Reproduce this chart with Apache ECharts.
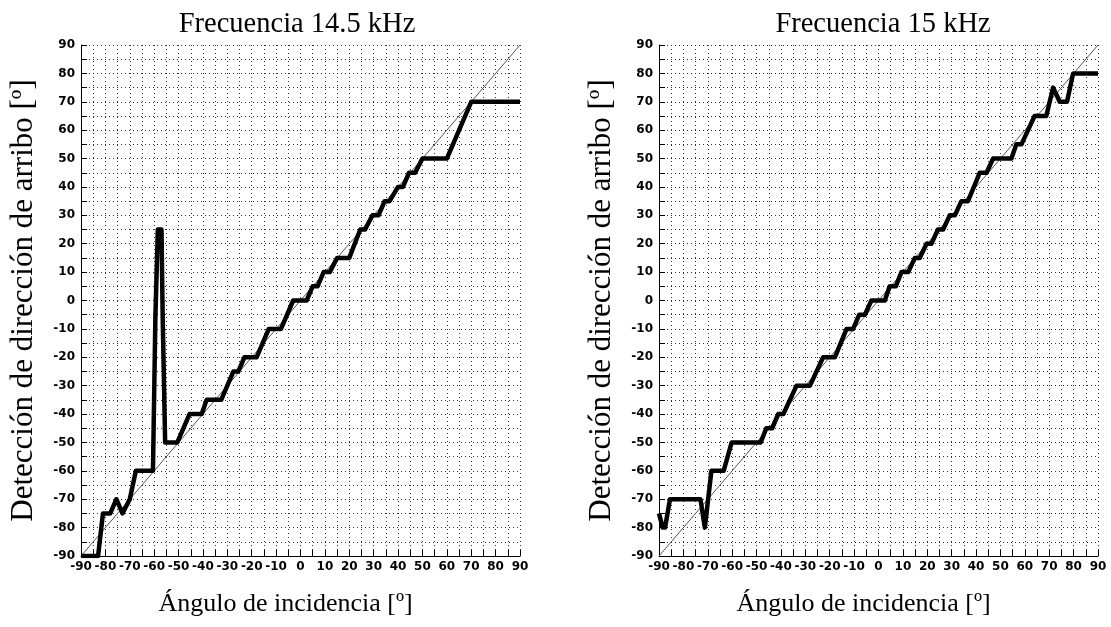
<!DOCTYPE html>
<html>
<head>
<meta charset="utf-8">
<script src="https://cdn.jsdelivr.net/npm/echarts@6/dist/echarts.min.js"></script>
<style>
html,body{margin:0;padding:0;background:#fff;}
#c{width:1111px;height:627px;}
</style>
</head>
<body>
<div id="c"></div>
<script>
// Titles and axis names
var titles = ['Frecuencia 14.5 kHz', 'Frecuencia 15 kHz'];
var xName = 'Ángulo de incidencia [º]';
var yName = 'Detección de dirección de arribo [º]';

// Axis range / ticks
var axisMin = -90, axisMax = 90, tickStep = 5, labelStep = 10;

// Reference diagonal (ideal detection y = x)
var diagX = [-90, 90];
var diagY = [-90, 90];

// 14.5 kHz: detected angle vs incidence angle (breakpoints)
var x145 = [-90,-83,-81,-78,-75.5,-73,-70,-67.5,-60.5,-59.5,-58.5,-57,-56.5,-55.5,-50.5,-45.5,-40.5,-38.5,-32.5,-27.5,-25.5,-23,-18,-13,-8,-3,2.5,5,7,9.5,12,15,20,24.5,26.5,29.5,32,34.5,36.5,40,42,44.5,47,50,60,70,90];
var y145 = [-90,-90,-75,-75,-70,-75,-70,-60,-60,-6,25,25,-6,-50,-50,-40,-40,-35,-35,-25,-25,-20,-20,-10,-10,0,0,5,5,10,10,15,15,25,25,30,30,35,35,40,40,45,45,50,50,70,70];

// 15 kHz
var x15 = [-90,-88.5,-87.5,-85.5,-73,-71.2,-70.5,-68.5,-63.5,-60.2,-48.3,-46,-43.6,-41.1,-39,-33.6,-28.1,-22.7,-17.9,-13.1,-10.4,-7.9,-5.6,-2.9,2.6,4.6,7.1,9.4,12.2,14.9,16.9,19.7,21.7,24.4,26.5,29.2,31.3,34,36.7,41.5,44.3,47,54.5,56.5,58.6,64,68.8,71.6,74.3,77.3,79.8,90];
var y15 = [-75,-80,-80,-70,-70,-80,-80,-60,-60,-50,-50,-45,-45,-40,-40,-30,-30,-20,-20,-10,-10,-5,-5,0,0,5,5,10,10,15,15,20,20,25,25,30,30,35,35,45,45,50,50,55,55,65,65,75,70,70,80,80];

function zip(a, b) { return a.map(function (v, i) { return [v, b[i]]; }); }

var tickFont = { fontFamily: 'DejaVu Sans', fontWeight: 'bold', fontSize: 12, color: '#000' };
var serif = 'Liberation Serif';

function labelFmt(v) { return v % labelStep === 0 ? String(v) : ''; }

function xAxisCfg(gi) {
  return {
    gridIndex: gi, type: 'value', min: axisMin, max: axisMax, interval: tickStep,
    name: xName, nameLocation: 'middle', nameGap: 35,
    nameTextStyle: { fontFamily: serif, fontSize: 26, color: '#000', padding: [0, 30, 0, 0] },
    axisLine: { show: true, onZero: false, lineStyle: { color: '#000', width: 1 } },
    axisTick: { show: true, inside: true, length: 6, lineStyle: { color: '#000' } },
    axisLabel: Object.assign({ margin: 5, formatter: labelFmt }, tickFont),
    splitLine: { show: true, lineStyle: { type: [1, 3], color: '#333', width: 1 } }
  };
}
function yAxisCfg(gi) {
  return {
    gridIndex: gi, type: 'value', min: axisMin, max: axisMax, interval: tickStep,
    name: yName, nameLocation: 'middle', nameGap: 42, nameRotate: 90,
    nameTextStyle: { fontFamily: serif, fontSize: 31, color: '#000' },
    axisLine: { show: true, onZero: false, lineStyle: { color: '#000', width: 1 } },
    axisTick: { show: true, inside: true, length: 6, lineStyle: { color: '#000' } },
    axisLabel: Object.assign({ margin: 6, formatter: labelFmt }, tickFont),
    splitLine: { show: true, lineStyle: { type: [1, 3], color: '#333', width: 1 } }
  };
}

function dataSeries(gi, xs, ys) {
  return {
    type: 'line', xAxisIndex: gi, yAxisIndex: gi, data: zip(xs, ys),
    symbol: 'none', lineStyle: { color: '#000', width: 4.5, join: 'round' }, z: 3, animation: false
  };
}
function diagSeries(gi) {
  return {
    type: 'line', xAxisIndex: gi, yAxisIndex: gi, data: zip(diagX, diagY),
    symbol: 'none', lineStyle: { color: '#555', width: 1 }, z: 2, animation: false
  };
}

var chart = echarts.init(document.getElementById('c'), null, { renderer: 'canvas' });
chart.setOption({
  backgroundColor: '#fff',
  animation: false,
  title: [
    { text: titles[0], left: 292, top: 5, textAlign: 'center', textStyle: { fontFamily: serif, fontSize: 28.5, fontWeight: 'normal', color: '#000' } },
    { text: titles[1], left: 878, top: 5, textAlign: 'center', textStyle: { fontFamily: serif, fontSize: 28.5, fontWeight: 'normal', color: '#000' } }
  ],
  grid: [
    { left: 81, right: 591, top: 45, bottom: 71 },
    { left: 659, right: 13, top: 45, bottom: 71 }
  ],
  xAxis: [xAxisCfg(0), xAxisCfg(1)],
  yAxis: [yAxisCfg(0), yAxisCfg(1)],
  series: [diagSeries(0), dataSeries(0, x145, y145), diagSeries(1), dataSeries(1, x15, y15)]
});
</script>
</body>
</html>
